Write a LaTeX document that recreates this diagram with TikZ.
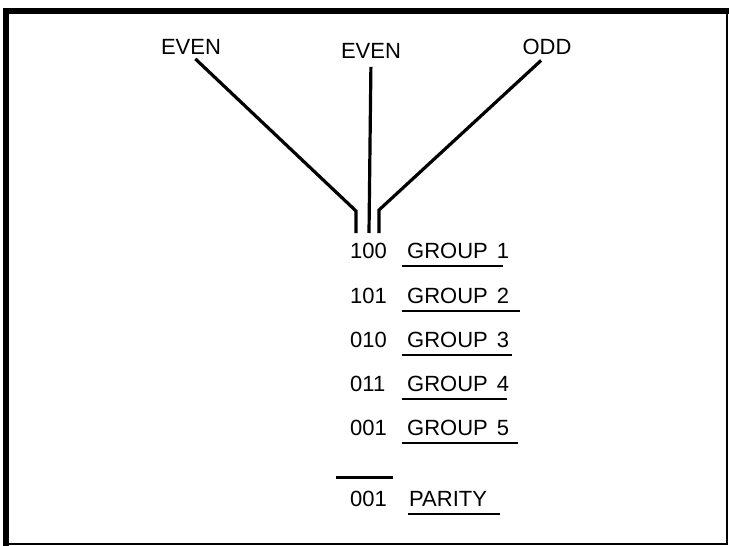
\documentclass[tikz,border=0pt]{standalone}
\usepackage{fontspec}
\setmainfont{Liberation Sans}
\usetikzlibrary{positioning, calc}

\begin{document}
\begin{tikzpicture} [
    x=1pt, y=-1pt,
    lbl/.style={inner sep=0pt, font=\fontsize{22}{26}\selectfont},
    wire/.style={draw, line width=3.2pt},
    uline/.style={draw, line width=2pt}
]
    \useasboundingbox (0,0) rectangle (729,546);
    % Frame
    \draw[line width=6pt] (6,546) -- (6,11) -- (729,11);
    \draw[line width=2pt] (727,11) -- (727,544) -- (6,544);

    % Labels
    \node[lbl] (even_a) at (191,47) {EVEN};
    \node[lbl] (even_b) at (371,51) {EVEN};
    \node[lbl] (odd) at (547,47) {ODD};

    % Bends and ends of the wires
    \coordinate (bend_a) at (356,211);
    \coordinate (end_a) at (356,233);
    \coordinate (end_b) at (369,233);
    \coordinate (bend_c) at (379,210);
    \coordinate (end_c) at (379,233);

    % Wires
    \path [wire, shorten <=6pt] (even_a.south) -- (bend_a) -- (end_a);
    \path [wire, shorten <=8pt] (even_b.south) -- (end_b);
    \path [wire, shorten <=8pt] (odd.south) -- (bend_c) -- (end_c);

    % Groups
    \foreach \code/\num/\yy/\len [count=\i] in {100/1/251/101, 101/2/296/118, 010/3/340/110, 011/4/384/105, 001/5/428/116} {
        \node[lbl, anchor=west] (code\i) at (350,\yy) {\code};
        \node[lbl, anchor=west] (group\i) at (407,\yy) {GROUP\hspace{9pt}\num};
        \path [uline] ([xshift=-5pt, yshift=-7pt] group\i.south west) -- ++(\len,0);
    }

    % Parity
    \node[lbl, anchor=west] (parity_code) at (350,499) {001};
    \node[lbl, anchor=west] (parity) at (409,499) {PARITY};
    \path [draw, line width=3pt] ([xshift=-14pt, yshift=14pt] parity_code.north west) -- ++(57,0);
    \path [uline] ([xshift=-1pt, yshift=-7pt] parity.south west) -- ++(92,0);

\end{tikzpicture}
\end{document}
